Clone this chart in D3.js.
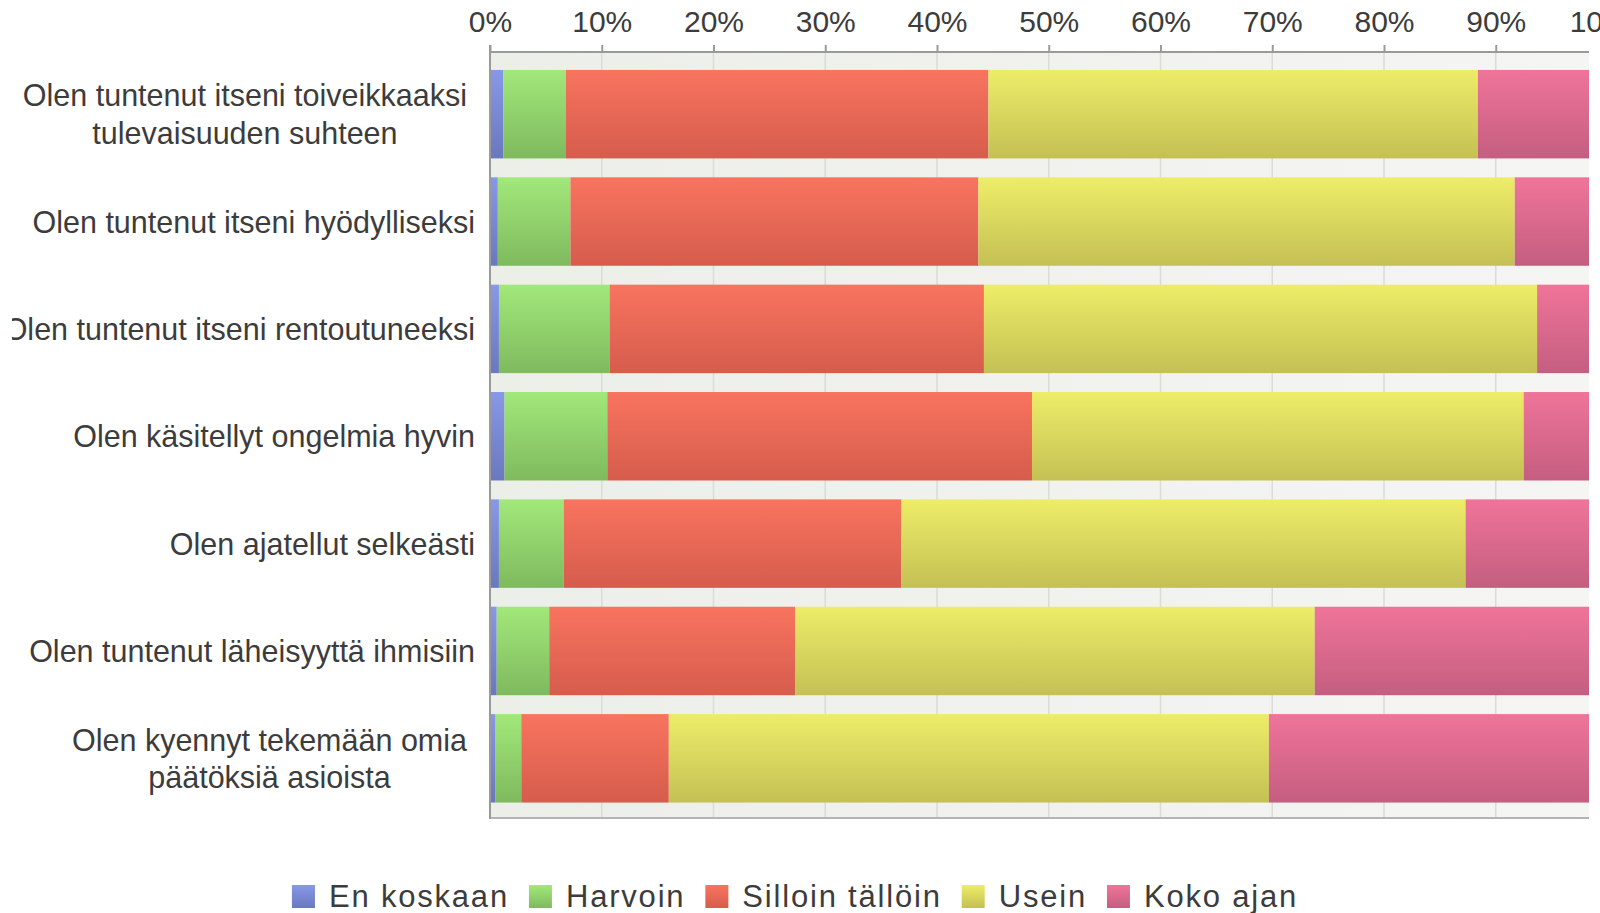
<html>
<head>
<script type="text/javascript" src="https://cdnjs.cloudflare.com/ajax/libs/d3/7.8.5/d3.min.js"></script>
<style>
  body { margin: 0; background: #fff; }
  text { font-family: "Liberation Sans", Arial, sans-serif; fill: #3c3c3c; }
</style>
</head>
<body>
<div id="chart"></div>
<script type="text/javascript">
// categories (label lines)
var categories = [
    ["Olen tuntenut itseni toiveikkaaksi", "tulevaisuuden suhteen"],
    ["Olen tuntenut itseni hyödylliseksi"],
    ["Olen tuntenut itseni rentoutuneeksi"],
    ["Olen käsitellyt ongelmia hyvin"],
    ["Olen ajatellut selkeästi"],
    ["Olen tuntenut läheisyyttä ihmisiin"],
    ["Olen kyennyt tekemään omia", "päätöksiä asioista"]
];
var seriesNames = ["En koskaan", "Harvoin", "Silloin tällöin", "Usein", "Koko ajan"];

// percentages per series, one value per category
var enKoskaan     = [1.2, 0.7, 0.8, 1.3, 0.8, 0.6, 0.5];
var harvoin       = [5.6, 6.5, 9.9, 9.2, 5.8, 4.7, 2.3];
var silloinTallon = [37.8, 36.5, 33.5, 38.0, 30.2, 22.0, 13.2];
var usein         = [43.8, 48.0, 49.5, 44.0, 50.5, 46.5, 53.7];
var kokoAjan      = [11.6, 8.3, 6.3, 7.5, 12.7, 26.2, 30.3];

var tickValues = [0, 10, 20, 30, 40, 50, 60, 70, 80, 90, 100];

var colorsTop    = ["#8898e8", "#a2e87a", "#f8745f", "#eded68", "#f0749a"];
var colorsBottom = ["#6a78be", "#7fba5e", "#d65c4c", "#c5c054", "#c45e80"];

var width = 1600, height = 913;
var plotLeft = 490, plotRight = 1589, plotTop = 52, plotBottom = 818;

var seriesValues = [enKoskaan, harvoin, silloinTallon, usein, kokoAjan];
var table = categories.map(function(c, i) {
    var row = {idx: i};
    seriesNames.forEach(function(s, j) { row[s] = seriesValues[j][i]; });
    return row;
});

var svg = d3.select("#chart").append("svg")
    .attr("width", width)
    .attr("height", height);

var defs = svg.append("defs");
seriesNames.forEach(function(s, j) {
    var g = defs.append("linearGradient")
        .attr("id", "grad" + j)
        .attr("x1", 0).attr("y1", 0).attr("x2", 0).attr("y2", 1);
    g.append("stop").attr("offset", "0%").attr("stop-color", colorsTop[j]);
    g.append("stop").attr("offset", "100%").attr("stop-color", colorsBottom[j]);
});
var bg = defs.append("linearGradient").attr("id", "bggrad")
    .attr("x1", 0).attr("y1", 0).attr("x2", 1).attr("y2", 0);
bg.append("stop").attr("offset", "0%").attr("stop-color", "#eceee8");
bg.append("stop").attr("offset", "100%").attr("stop-color", "#f5f6f4");

defs.append("clipPath").attr("id", "plotclip")
    .append("rect")
    .attr("x", plotLeft).attr("y", 0)
    .attr("width", plotRight - plotLeft).attr("height", height);
defs.append("clipPath").attr("id", "labelclip")
    .append("rect")
    .attr("x", 12).attr("y", 0)
    .attr("width", plotLeft - 12).attr("height", height);

//Scales
var xScale = d3.scaleLinear()
    .domain([0, 100])
    .range([plotLeft, 1607.5]);
var yScale = d3.scaleBand()
    .domain(d3.range(categories.length))
    .range([60.5, 812])
    .paddingInner(0.176)
    .paddingOuter(0.088);

var plot = svg.append("g").attr("clip-path", "url(#plotclip)");

// background
plot.append("rect")
    .attr("x", plotLeft).attr("y", plotTop)
    .attr("width", plotRight - plotLeft).attr("height", plotBottom - plotTop)
    .attr("fill", "url(#bggrad)");

// grid lines
plot.selectAll("line.grid")
    .data(tickValues.slice(1))
    .enter()
    .append("line")
    .attr("class", "grid")
    .attr("x1", function(d) { return xScale(d); })
    .attr("x2", function(d) { return xScale(d); })
    .attr("y1", plotTop).attr("y2", plotBottom)
    .attr("stroke", "#dadcd6")
    .attr("stroke-width", 1.5);

// bars
var stacked = d3.stack().keys(seriesNames)(table);
plot.selectAll("g.series")
    .data(stacked)
    .enter()
    .append("g")
    .attr("class", "series")
    .attr("fill", function(d, j) { return "url(#grad" + j + ")"; })
    .selectAll("rect")
    .data(function(d) { return d; })
    .enter()
    .append("rect")
    .attr("x", function(d) { return xScale(d[0]); })
    .attr("y", function(d) { return yScale(d.data.idx); })
    .attr("width", function(d) { return xScale(d[1]) - xScale(d[0]); })
    .attr("height", yScale.bandwidth());

// frame
svg.append("line")
    .attr("x1", plotLeft).attr("x2", plotRight)
    .attr("y1", plotTop).attr("y2", plotTop)
    .attr("stroke", "#9a9a9a").attr("stroke-width", 2);
svg.append("line")
    .attr("x1", plotLeft).attr("x2", plotRight)
    .attr("y1", plotBottom).attr("y2", plotBottom)
    .attr("stroke", "#b4b4b4").attr("stroke-width", 2);
svg.append("line")
    .attr("x1", plotLeft).attr("x2", plotLeft)
    .attr("y1", plotTop - 7).attr("y2", plotBottom + 1)
    .attr("stroke", "#9a9a9a").attr("stroke-width", 2);

// top axis
var axis = svg.append("g")
    .attr("transform", "translate(0," + plotTop + ")")
    .call(d3.axisTop(xScale)
        .tickValues(tickValues)
        .tickSize(7)
        .tickPadding(13)
        .tickFormat(function(d) { return d + "%"; }));
axis.select(".domain").remove();
axis.selectAll(".tick line").attr("stroke", "#9a9a9a").attr("stroke-width", 2);
axis.selectAll(".tick text")
    .attr("fill", "#3c3c3c")
    .style("font-size", "30px")
    .style("font-family", "'Liberation Sans', Arial, sans-serif");

// category labels
var labels = svg.append("g").attr("clip-path", "url(#labelclip)");
categories.forEach(function(lines, i) {
    var cy = yScale(i) + yScale.bandwidth() / 2;
    if (lines.length === 1) {
        labels.append("text")
            .attr("x", 475)
            .attr("y", cy + 11)
            .attr("text-anchor", "end")
            .style("font-size", "30.5px")
            .text(lines[0]);
    } else {
        var lh = 37.5;
        var t = labels.append("text")
            .attr("text-anchor", "middle")
            .style("font-size", "30.5px");
        lines.forEach(function(l, k) {
            t.append("tspan")
                .attr("y", cy + 11 + (k - (lines.length - 1) / 2) * lh)
                .text(l);
        });
        var maxW = d3.max(t.selectAll("tspan").nodes(), function(n) { return n.getComputedTextLength(); });
        t.selectAll("tspan").attr("x", 467 - maxW / 2);
    }
});

// legend
var legend = svg.append("g");
var items = legend.selectAll("g")
    .data(seriesNames)
    .enter()
    .append("g");
items.append("rect")
    .attr("width", 23).attr("height", 23)
    .attr("y", 885)
    .attr("fill", function(d, j) { return "url(#grad" + j + ")"; });
items.append("text")
    .attr("x", 37)
    .attr("y", 907)
    .style("font-size", "31px")
    .style("letter-spacing", "1.8px")
    .text(function(d) { return d; });
var widths = items.nodes().map(function(n) { return d3.select(n).select("text").node().getComputedTextLength(); });
var total = d3.sum(widths, function(w) { return 37 + w; }) + 20 * (seriesNames.length - 1);
var xpos = 795 - total / 2;
items.attr("transform", function(d, j) {
    var x = xpos;
    xpos += 37 + widths[j] + 20;
    return "translate(" + x + ",0)";
});
</script>
</body>
</html>
